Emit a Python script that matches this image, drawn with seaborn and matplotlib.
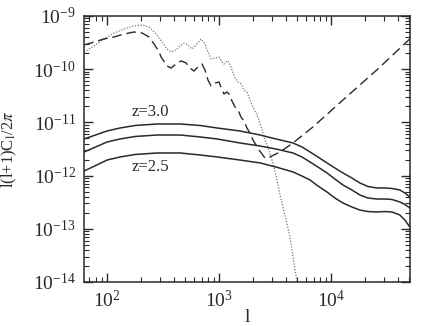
import numpy as np
import pandas as pd
import matplotlib
matplotlib.use("Agg")
import matplotlib.pyplot as plt
import matplotlib.ticker as mticker
import seaborn as sns

# ---------------- data ----------------
dot_l = [62.8, 77.1, 94.6, 116, 143, 175, 206, 238, 275, 311, 345, 374, 415, 450,
         489, 531, 576, 625, 692, 751, 799, 851, 924, 1002, 1067, 1110, 1181,
         1230, 1309, 1392, 1481, 1575, 1675, 1780, 1892, 2013, 2141, 2278, 2424,
         2576, 2741, 2915, 3101, 3297, 3508, 3882, 4304, 4970, 5280]
dot_c = [2.10e-10, 2.73e-10, 3.70e-10, 4.79e-10, 5.70e-10, 6.49e-10, 6.78e-10,
         6.21e-10, 4.59e-10, 3.24e-10, 2.40e-10, 2.10e-10, 2.30e-10, 2.73e-10,
         3.10e-10, 2.85e-10, 2.40e-10, 2.85e-10, 3.70e-10, 2.98e-10, 2.10e-10,
         1.56e-10, 1.62e-10, 1.69e-10, 1.36e-10, 1.25e-10, 1.43e-10, 1.36e-10,
         9.66e-11, 6.83e-11, 5.74e-11, 5.27e-11, 4.06e-11, 3.73e-11, 2.64e-11,
         1.95e-11, 1.50e-11, 1.11e-11, 7.19e-12, 4.67e-12, 3.45e-12, 2.24e-12,
         1.45e-12, 8.26e-13, 4.32e-13, 1.82e-13, 7.01e-14, 1.0e-14, 4.6e-15]

dash_l = [62.8, 77.1, 94.6, 116, 143, 175, 206, 238, 264, 293, 305, 345, 374, 415,
          459, 509, 552, 600, 651, 706, 751, 799, 851, 924, 1002, 1067, 1110, 1181,
          1230, 1309, 1392, 1481, 1575, 1675, 1780, 1892, 2013, 2141, 2278, 2424,
          2576, 2852, 3508, 4580, 6900, 12800, 25600, 50500]
dash_c = [2.85e-10, 3.24e-10, 3.70e-10, 4.03e-10, 4.59e-10, 5.00e-10, 4.79e-10,
          4.03e-10, 2.98e-10, 2.10e-10, 1.69e-10, 1.15e-10, 1.05e-10, 1.25e-10,
          1.43e-10, 1.31e-10, 1.05e-10, 9.25e-11, 1.10e-10, 1.25e-10, 9.66e-11,
          6.27e-11, 4.83e-11, 5.51e-11, 5.74e-11, 4.06e-11, 3.42e-11, 3.73e-11,
          3.42e-11, 2.52e-11, 1.95e-11, 1.71e-11, 1.26e-11, 1.06e-11, 7.85e-12,
          6.32e-12, 4.67e-12, 3.76e-12, 3.03e-12, 2.55e-12, 2.14e-12, 2.24e-12,
          2.78e-12, 4.10e-12, 8.20e-12, 2.64e-11, 9.66e-11, 3.70e-10]

solid_l = [62.8, 100.6, 131.6, 178.8, 281, 450, 679, 962, 1542, 2327, 3228, 4580,
           5505, 6500, 7640, 9204, 10830, 12800, 15360, 18100, 21330, 25600,
           30200, 34900, 41100, 45600, 50500]
top_c = [4.88e-12, 6.89e-12, 7.85e-12, 8.74e-12, 9.33e-12, 9.33e-12, 8.74e-12,
         7.85e-12, 6.89e-12, 5.79e-12, 4.88e-12, 4.10e-12, 3.45e-12, 2.78e-12,
         2.24e-12, 1.73e-12, 1.39e-12, 1.12e-12, 9.01e-13, 7.26e-13, 6.24e-13,
         5.85e-13, 5.85e-13, 5.73e-13, 5.36e-13, 4.71e-13, 3.96e-13]
mid_c = [2.78e-12, 4.28e-12, 4.88e-12, 5.43e-12, 5.79e-12, 5.79e-12, 5.32e-12,
         4.88e-12, 4.10e-12, 3.60e-12, 3.16e-12, 2.66e-12, 2.24e-12, 1.80e-12,
         1.45e-12, 1.12e-12, 8.62e-13, 6.65e-13, 5.36e-13, 4.32e-13, 3.79e-13,
         3.63e-13, 3.63e-13, 3.56e-13, 3.19e-13, 2.86e-13, 2.46e-13]
bot_c = [1.22e-12, 1.96e-12, 2.24e-12, 2.49e-12, 2.66e-12, 2.66e-12, 2.44e-12,
         2.24e-12, 1.96e-12, 1.73e-12, 1.45e-12, 1.17e-12, 9.82e-13, 8.26e-13,
         6.38e-13, 4.92e-13, 3.79e-13, 3.05e-13, 2.57e-13, 2.25e-13, 2.11e-13,
         2.07e-13, 2.11e-13, 2.07e-13, 1.82e-13, 1.46e-13, 1.08e-13]

labels = ["z=3.0", "z=2.5"]
label_l = [243, 243]
label_c = [1.57e-11, 1.45e-12]

x_ticks = [1e2, 1e3, 1e4]
y_ticks = [1e-14, 1e-13, 1e-12, 1e-11, 1e-10, 1e-9]

# ---------------- style ----------------
sns.set_style("ticks")
plt.rcParams["font.family"] = ["Liberation Serif", "DejaVu Serif"]
plt.rcParams["mathtext.fontset"] = "stix"
ink = "#2a2a2a"
plt.rcParams.update({
    "axes.edgecolor": ink, "xtick.color": ink, "ytick.color": ink,
    "text.color": ink, "axes.labelcolor": ink, "axes.linewidth": 1.1,
})

fig = plt.figure(figsize=(4.36, 3.26), dpi=100)
ax = fig.add_axes([0.193, 0.135, 0.747, 0.816])

sns.lineplot(x=dot_l, y=dot_c, ax=ax, color="#777777", lw=0.9,
             linestyle=(0, (1, 1.3)), sort=False, estimator=None)
sns.lineplot(x=dash_l, y=dash_c, ax=ax, color=ink, lw=1.0,
             linestyle=(0, (7, 3.5)), sort=False, estimator=None)
for c in (top_c, mid_c, bot_c):
    sns.lineplot(x=solid_l, y=c, ax=ax, color=ink, lw=1.1,
                 sort=False, estimator=None)

for t, lx, ly in zip(labels, label_l, label_c):
    ax.text(lx, ly, t, ha="center", va="center", fontsize=12)

ax.set_xscale("log")
ax.set_yscale("log")
ax.set_xlim(62.8, 50500)
ax.set_ylim(1e-14, 1e-9)

ax.xaxis.set_major_locator(mticker.FixedLocator(x_ticks))
ax.yaxis.set_major_locator(mticker.FixedLocator(y_ticks))
ax.xaxis.set_major_formatter(mticker.LogFormatterSciNotation())
ax.yaxis.set_major_formatter(mticker.LogFormatterSciNotation())
ax.xaxis.set_minor_locator(mticker.LogLocator(base=10, subs=np.arange(2, 10)))
ax.yaxis.set_minor_locator(mticker.LogLocator(base=10, subs=np.arange(2, 10), numticks=10))
ax.xaxis.set_minor_formatter(mticker.NullFormatter())
ax.yaxis.set_minor_formatter(mticker.NullFormatter())

ax.tick_params(which="both", direction="in", top=True, right=True, labelsize=14)
ax.tick_params(which="major", length=6.5, width=1.0, pad=6)
ax.tick_params(which="minor", length=3.5, width=0.8)

ax.set_xlabel("l", fontsize=14, labelpad=-2)
ax.set_ylabel(r"l(l+1)C$_{\rm l}$/2$\pi$", fontsize=12, labelpad=10)

fig.savefig("out.png", dpi=100, facecolor="white")
